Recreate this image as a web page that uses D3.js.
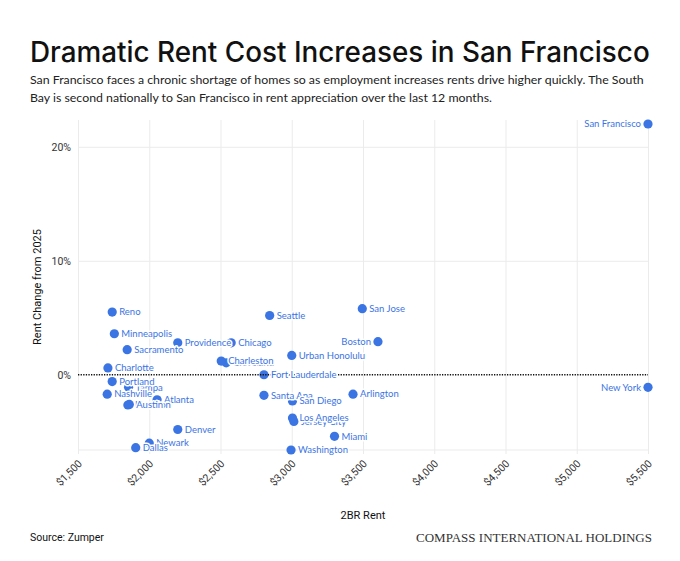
<!DOCTYPE html>
<html>
<head>
<meta charset="utf-8">
<script src="https://cdn.jsdelivr.net/npm/d3@7"></script>
<style>
  body { margin: 0; background: #fff; }
  svg { display: block; }
  .grid line { stroke: #ebebeb; }
  .grid path { display: none; }
  .tick text { font-family: Roboto, sans-serif; fill: #333; }
  .label { font-family: Lato, sans-serif; font-size: 9.5px; fill: #3b74e3;
           stroke: #fff; stroke-width: 3px; paint-order: stroke; stroke-linejoin: round; }
</style>
</head>
<body>
<svg id="chart" width="680" height="561"></svg>
<script>
// data
const cities = ["Reno", "Minneapolis", "Sacramento", "Providence", "Chicago",
    "Cleveland", "Charleston", "Charlotte", "Tampa", "Portland", "Nashville",
    "Atlanta", "Houston", "Austin", "Denver", "Newark", "Dallas", "Seattle",
    "San Jose", "Boston", "Urban Honolulu", "Fort Lauderdale", "Santa Ana",
    "San Diego", "Arlington", "Jersey City", "Los Angeles", "Miami",
    "Washington", "San Francisco", "New York"];
const rent = [1740, 1755, 1845, 2200, 2575,
    2540, 2505, 1710, 1855, 1740, 1705,
    2055, 1850, 1860, 2200, 2000, 1905, 2845,
    3495, 3605, 3000, 2805, 2805,
    3005, 3430, 3015, 3005, 3300,
    2995, 5500, 5500];
const change = [5.5, 3.6, 2.2, 2.8, 2.8,
    1.05, 1.2, 0.6, -1.1, -0.6, -1.7,
    -2.2, -2.65, -2.6, -4.8, -6.0, -6.4, 5.2,
    5.8, 2.9, 1.7, 0.0, -1.8,
    -2.3, -1.7, -4.1, -3.8, -5.4,
    -6.6, 22.0, -1.1];
const xTicks = [1500, 2000, 2500, 3000, 3500, 4000, 4500, 5000, 5500];
const yTicks = [0, 10, 20];
// labels drawn on the left of their dot
const leftLabels = ["San Francisco", "Boston", "New York"];

const points = cities.map((c, i) => ({name: c, rent: rent[i], change: change[i]}));

const svg = d3.select("#chart");
const margin = {top: 124, right: 32, bottom: 111, left: 78};
const W = 680, H = 561;
const iw = W - margin.left - margin.right;
const ih = H - margin.top - margin.bottom;
const blue = "#3b74e3";

// shrink/grow a text so it spans the given width
function fitWidth(sel, width) {
    const fs = +sel.attr("font-size");
    const len = sel.node().getComputedTextLength();
    sel.attr("font-size", fs * width / len);
}

// header
svg.append("text")
    .attr("x", 30).attr("y", 62)
    .attr("font-family", "Inter, sans-serif")
    .attr("font-weight", 500)
    .attr("font-size", 32)
    .attr("fill", "#111")
    .text("Dramatic Rent Cost Increases in San Francisco")
    .call(fitWidth, 620);

const sub1 = svg.append("text").attr("x", 30).attr("y", 84)
    .attr("font-family", "Lato, sans-serif")
    .attr("font-size", 13)
    .attr("fill", "#222")
    .text("San Francisco faces a chronic shortage of homes so as employment increases rents drive higher quickly. The South")
    .call(fitWidth, 614);
svg.append("text").attr("x", 30).attr("y", 102)
    .attr("font-family", "Lato, sans-serif")
    .attr("font-size", sub1.attr("font-size"))
    .attr("fill", "#222")
    .text("Bay is second nationally to San Francisco in rent appreciation over the last 12 months.");

const g = svg.append("g").attr("transform", `translate(${margin.left},${margin.top})`);

const x = d3.scaleLinear().domain([1500, 5500]).range([0, iw]);
const y = d3.scaleLinear().domain(d3.extent(change)).range([ih, 0]);

// vertical grid + x ticks
const xAxis = g.append("g")
    .attr("class", "grid")
    .attr("transform", `translate(0,${ih})`)
    .call(d3.axisBottom(x).tickValues(xTicks).tickSize(-ih - 4).tickFormat(d3.format("$,")))
    .call(a => a.selectAll(".tick line").attr("y1", 4));
xAxis.selectAll(".tick text")
    .attr("font-size", 10.5)
    .attr("text-anchor", "end")
    .attr("transform", "translate(2,12) rotate(-45)")
    .attr("dy", "0.3em")
    .attr("y", 0);
g.append("line")
    .attr("x1", 0).attr("x2", iw)
    .attr("y1", ih).attr("y2", ih)
    .attr("stroke", "#ebebeb");

// horizontal grid + y ticks
const yAxis = g.append("g")
    .attr("class", "grid")
    .call(d3.axisLeft(y).tickValues(yTicks).tickSize(-iw).tickPadding(7).tickFormat(d => d + "%"));
yAxis.selectAll(".tick text").attr("font-size", 10.5);
yAxis.selectAll(".tick").filter(d => d === 0).select("line").remove();

// dots
g.append("g").selectAll("circle")
    .data(points)
    .join("circle")
    .attr("cx", d => x(d.rent))
    .attr("cy", d => y(d.change))
    .attr("r", 4.6)
    .attr("fill", blue);

// zero line
g.append("line")
    .attr("x1", 0).attr("x2", iw)
    .attr("y1", y(0)).attr("y2", y(0))
    .attr("stroke", "#111")
    .attr("stroke-width", 1.3)
    .attr("stroke-dasharray", "1.3,1.3");

// labels
g.append("g").selectAll("text")
    .data(points)
    .join("text")
    .attr("class", "label")
    .attr("x", d => x(d.rent) + (leftLabels.includes(d.name) ? -7 : 7))
    .attr("y", d => y(d.change))
    .attr("dy", "0.35em")
    .attr("text-anchor", d => leftLabels.includes(d.name) ? "end" : "start")
    .text(d => d.name);

// axis titles
svg.append("text")
    .attr("x", margin.left + iw / 2).attr("y", 519)
    .attr("text-anchor", "middle")
    .attr("font-family", "Roboto, sans-serif")
    .attr("font-size", 11)
    .attr("fill", "#111")
    .text("2BR Rent");
svg.append("text")
    .attr("transform", `translate(41,${margin.top + ih / 2}) rotate(-90)`)
    .attr("text-anchor", "middle")
    .attr("font-family", "Roboto, sans-serif")
    .attr("font-size", 11)
    .attr("fill", "#111")
    .text("Rent Change from 2025");

// footer
svg.append("text")
    .attr("x", 30).attr("y", 541)
    .attr("font-family", "Roboto, sans-serif")
    .attr("font-size", 10.5)
    .attr("fill", "#111")
    .text("Source: Zumper");
svg.append("text")
    .attr("x", 652).attr("y", 542)
    .attr("text-anchor", "end")
    .attr("font-family", "'Liberation Serif', serif")
    .attr("font-size", 13)
    .attr("fill", "#333")
    .text("COMPASS INTERNATIONAL HOLDINGS");
</script>
</body>
</html>
